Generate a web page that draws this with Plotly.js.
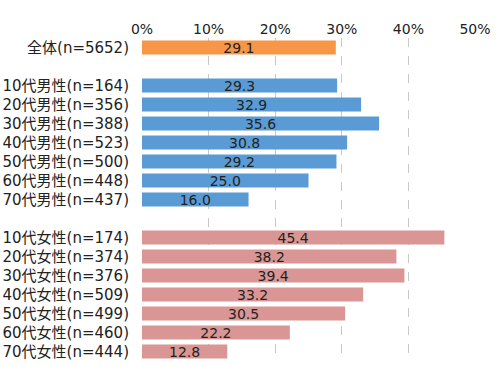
<!DOCTYPE html>
<html><head><meta charset="utf-8">
<script src="https://cdn.plot.ly/plotly-3.0.1.min.js"></script>
<style>html,body{margin:0;padding:0;background:#fff}</style>
</head><body><div id="c" style="width:502px;height:367px"></div>
<script>
const categories = ["全体(n=5652)", " ",
  "10代男性(n=164)","20代男性(n=356)","30代男性(n=388)","40代男性(n=523)","50代男性(n=500)","60代男性(n=448)","70代男性(n=437)", "  ",
  "10代女性(n=174)","20代女性(n=374)","30代女性(n=376)","40代女性(n=509)","50代女性(n=499)","60代女性(n=460)","70代女性(n=444)"];
const totalCats = ["全体(n=5652)"];
const totalVals = [29.1];
const maleCats = ["10代男性(n=164)","20代男性(n=356)","30代男性(n=388)","40代男性(n=523)","50代男性(n=500)","60代男性(n=448)","70代男性(n=437)"];
const maleVals = [29.3, 32.9, 35.6, 30.8, 29.2, 25.0, 16.0];
const femaleCats = ["10代女性(n=174)","20代女性(n=374)","30代女性(n=376)","40代女性(n=509)","50代女性(n=499)","60代女性(n=460)","70代女性(n=444)"];
const femaleVals = [45.4, 38.2, 39.4, 33.2, 30.5, 22.2, 12.8];
const xTicks = [0, 10, 20, 30, 40, 50];

const font = "'DejaVu Sans', 'Noto Sans CJK JP', sans-serif";
function tr(cats, vals, color) {
  return {type:'bar', orientation:'h', y:cats, x:vals, marker:{color:color},
    text: vals.map(v=>v.toFixed(1)), textposition:'inside', insidetextanchor:'middle',
    constraintext:'none',
    textfont:{family:font, size:14, color:'#222'}, hoverinfo:'none', cliponaxis:false, textangle:0};
}
const data = [tr(totalCats,totalVals,'#F79646'), tr(maleCats,maleVals,'#5B9BD5'), tr(femaleCats,femaleVals,'#DA9694')];
const layout = {
  width:502, height:367, margin:{l:142, r:27, t:37.5, b:5.5},
  showlegend:false, bargap:0.26, barmode:'overlay',
  paper_bgcolor:'#fff', plot_bgcolor:'#fff',
  font:{family:font, size:14, color:'#222'},
  xaxis:{side:'top', range:[0,50], tickvals:xTicks, ticktext:xTicks.map(v=>v+'%'),
    showgrid:true, gridcolor:'#c8c8c8', griddash:'dash', gridwidth:1, zeroline:false,
    showline:false, ticks:'', tickfont:{size:14, color:'#222'}, fixedrange:true},
  yaxis:{type:'category', categoryorder:'array', categoryarray:categories, range:[categories.length-0.5,-0.5],
    showgrid:false, zeroline:false, showline:false, ticks:'', ticklabelstandoff:12,
    tickfont:{size:15, color:'#222'}, tickvals:categories, fixedrange:true}
};
Plotly.newPlot('c', data, layout, {displayModeBar:false, staticPlot:true});
</script></body></html>
